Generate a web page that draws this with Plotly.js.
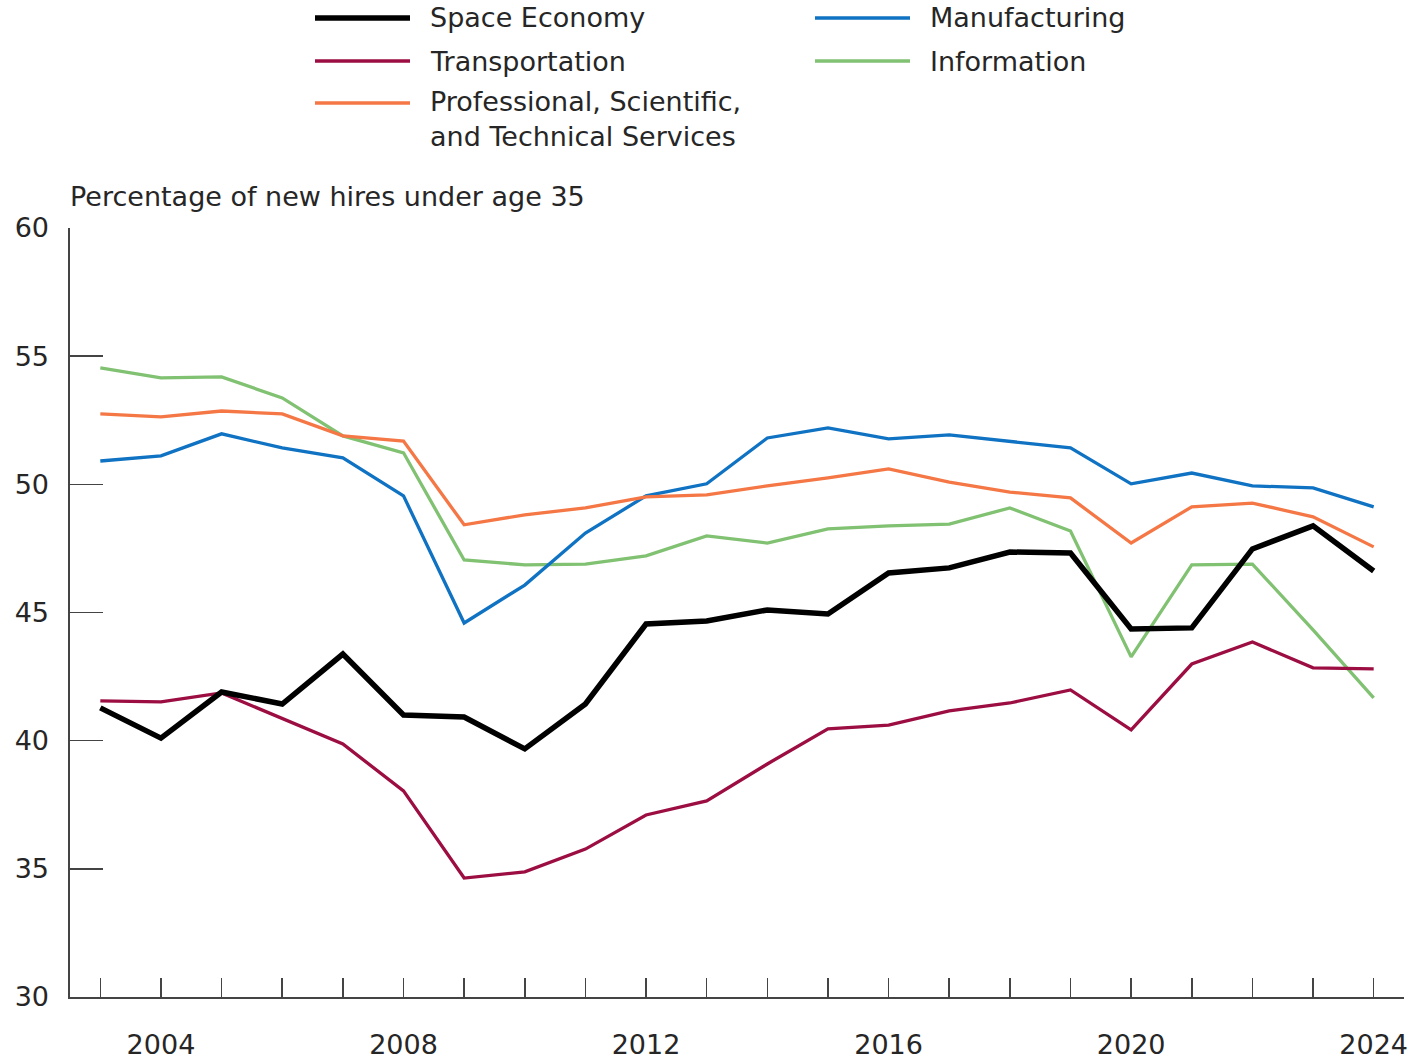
<!DOCTYPE html>
<html>
<head>
<meta charset="utf-8">
<script src="https://cdn.plot.ly/plotly-3.0.1.min.js"></script>
<style>html,body{margin:0;padding:0;background:#fff;}</style>
</head>
<body>
<div id="chart" style="width:1415px;height:1063px;"></div>
<script>
const years = [2003,2004,2005,2006,2007,2008,2009,2010,2011,2012,2013,2014,2015,2016,2017,2018,2019,2020,2021,2022,2023,2024];
const xTickLabels = ["","2004","","","","2008","","","","2012","","","","2016","","","","2020","","","","2024"];
const yTickVals = [30,35,40,45,50,55,60];

const spaceEconomy   = [41.28,40.10,41.90,41.43,43.38,41.00,40.92,39.68,41.43,44.55,44.67,45.10,44.94,46.54,46.74,47.36,47.32,44.36,44.40,47.48,48.38,46.62];
const transportation = [41.55,41.51,41.86,40.85,39.87,38.04,34.64,34.88,35.77,37.10,37.65,39.09,40.46,40.61,41.16,41.47,41.98,40.42,42.99,43.85,42.84,42.80];
const professional   = [52.75,52.63,52.86,52.75,51.89,51.69,48.42,48.81,49.08,49.51,49.59,49.94,50.25,50.60,50.09,49.70,49.47,47.71,49.12,49.27,48.73,47.56];
const manufacturing  = [50.91,51.11,51.97,51.42,51.03,49.55,44.59,46.07,48.10,49.55,50.02,51.81,52.20,51.77,51.93,51.69,51.42,50.02,50.44,49.94,49.86,49.12];
const information    = [54.54,54.15,54.19,53.37,51.89,51.23,47.05,46.86,46.89,47.21,47.99,47.71,48.26,48.38,48.45,49.08,48.18,43.27,46.86,46.89,44.32,41.67];

const seriesNames = ["Space Economy","Transportation","Professional, Scientific,<br>and Technical Services","Manufacturing","Information"];
const yTitle = "Percentage of new hires under age 35";

const colors = {
  space: "#000000",
  transp: "#9c0d42",
  prof: "#f47745",
  manuf: "#0f72c2",
  info: "#80c172"
};

const FONT = "DejaVu Sans, Open Sans, sans-serif";
const FS = 27;
const TXT = "#262626";

// plot area in pixels
const L = 70, R = 1404, T = 228, B = 997;
const W = 1415, H = 1063;
const px2x = px => (px - L) / (R - L);
const px2y = py => (B - py) / (B - T);

const traces = [
  {x: years, y: information, name: seriesNames[4], mode: "lines", line: {color: colors.info, width: 3.3}},
  {x: years, y: manufacturing, name: seriesNames[3], mode: "lines", line: {color: colors.manuf, width: 3.3}},
  {x: years, y: professional, name: seriesNames[2], mode: "lines", line: {color: colors.prof, width: 3.3}},
  {x: years, y: transportation, name: seriesNames[1], mode: "lines", line: {color: colors.transp, width: 3.3}},
  {x: years, y: spaceEconomy, name: seriesNames[0], mode: "lines", line: {color: colors.space, width: 5.5}}
];

// manual legend
const legendItems = [
  {name: seriesNames[0], color: colors.space, w: 5.5, x0: 315, x1: 410, tx: 428, y: 18, ty: 18},
  {name: seriesNames[1], color: colors.transp, w: 3.3, x0: 315, x1: 410, tx: 428, y: 61, ty: 61},
  {name: seriesNames[2], color: colors.prof, w: 3.3, x0: 315, x1: 410, tx: 428, y: 103, ty: 119.5},
  {name: seriesNames[3], color: colors.manuf, w: 3.3, x0: 815, x1: 910, tx: 928, y: 18, ty: 18},
  {name: seriesNames[4], color: colors.info, w: 3.3, x0: 815, x1: 910, tx: 928, y: 61, ty: 61}
];

const shapes = legendItems.map(it => ({
  type: "line", xref: "paper", yref: "paper",
  x0: px2x(it.x0), x1: px2x(it.x1), y0: px2y(it.y), y1: px2y(it.y),
  line: {color: it.color, width: it.w}
}));

const annotations = legendItems.map(it => ({
  xref: "paper", yref: "paper", x: px2x(it.tx), y: px2y(it.ty),
  xanchor: "left", yanchor: "middle", align: "left", showarrow: false,
  text: it.name, font: {family: FONT, size: FS, color: TXT}
}));

annotations.push({
  xref: "paper", yref: "paper", x: px2x(68), y: px2y(197),
  xanchor: "left", yanchor: "middle", showarrow: false,
  text: yTitle, font: {family: FONT, size: FS, color: TXT}
});

const layout = {
  width: W, height: H,
  margin: {l: L, r: W - R, t: T, b: H - B, pad: 0},
  paper_bgcolor: "#ffffff", plot_bgcolor: "#ffffff",
  showlegend: false,
  font: {family: FONT, size: FS, color: TXT},
  xaxis: {
    range: [2002.5, 2024.5],
    tickvals: years, ticktext: xTickLabels,
    ticks: "inside", ticklen: 19, tickwidth: 1.6, tickcolor: "#444",
    showline: true, linecolor: "#444", linewidth: 1.6,
    showgrid: false, zeroline: false,
    ticklabelstandoff: 23,
    tickfont: {family: FONT, size: FS, color: TXT}
  },
  yaxis: {
    range: [30, 60],
    tickvals: yTickVals,
    ticks: "inside", ticklen: 33, tickwidth: 1.6, tickcolor: "#444",
    showline: true, linecolor: "#444", linewidth: 1.6,
    showgrid: false, zeroline: false,
    ticklabelstandoff: 14,
    tickfont: {family: FONT, size: FS, color: TXT}
  },
  shapes: shapes,
  annotations: annotations
};

Plotly.newPlot("chart", traces, layout, {displayModeBar: false, staticPlot: true});
</script>
</body>
</html>
